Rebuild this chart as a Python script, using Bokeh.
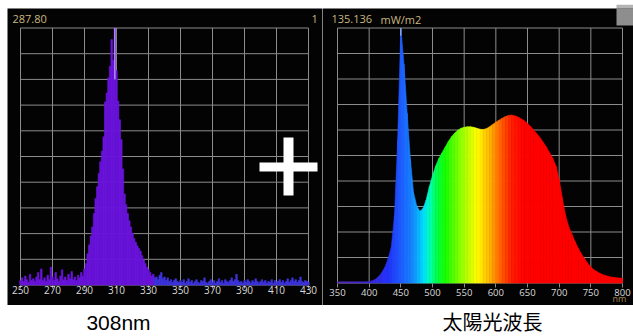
import numpy as np
from bokeh.plotting import figure
from bokeh.models import Range1d, FixedTicker, Label, BoxAnnotation, Spacer
from bokeh.layouts import column, row
from bokeh.embed import file_html
from bokeh.resources import INLINE

# ---------------- data ----------------
# Left panel: narrow-band UV lamp spectrum (peak near 308 nm)
uv_wavelength = list(range(250, 431))
uv_counts = [
    5, 8, 4, 10, 6, 3, 12, 5, 7, 4,
    9, 14, 6, 18, 5, 8, 4, 11, 6, 20,
    9, 5, 14, 7, 4, 10, 17, 6, 9, 5,
    12, 7, 15, 6, 9, 5, 11, 8, 14, 10,
    18, 24, 35, 45, 55, 65, 80, 97, 110, 125,
    138, 150, 166, 205, 215, 232, 245, 275, 252, 287.8,
    240, 206, 185, 163, 130, 102, 90, 80, 72, 65,
    58, 52, 48, 44, 41, 38, 33, 28, 24, 20,
    17, 14, 10, 12, 8, 9, 6, 11, 14, 7,
    9, 5, 8, 4, 6, 3, 5, 7, 4, 3,
    5, 3, 6, 2, 4, 7, 3, 5, 2, 4,
    6, 3, 2, 5, 4, 8, 3, 2, 4, 6,
    3, 5, 2, 4, 7, 3, 5, 2, 6, 4,
    3, 5, 8, 4, 6, 12, 5, 3, 4, 2,
    5, 3, 6, 4, 2, 5, 3, 7, 4, 2,
    4, 6, 3, 5, 2, 4, 3, 6, 2, 5,
    3, 4, 6, 3, 5, 2, 4, 7, 3, 5,
    8, 4, 6, 3, 5, 9, 4, 3, 5, 4,
    3,
]
uv_peak_text = "287.80"
uv_right_text = "1"
uv_ticks = list(range(250, 431, 20))

# Right panel: sunlight-like full spectrum (mW/m2)
sun_wavelength = list(range(350, 801, 5))
sun_irradiance = [
    0.6, 0.6, 0.6, 0.6, 0.6, 0.6, 0.6, 0.6, 0.6, 0.6,      # 350-395
    0.8, 1.2, 2.0, 3.5, 5.5, 8.5, 13, 19, 36, 76,           # 400-445
    135.136, 116, 90, 66, 48, 41, 38, 39.5, 44, 51,         # 450-495
    57, 62, 66, 69, 72, 75, 77.5, 79.5, 81, 82,             # 500-545
    82.5, 82.8, 82.8, 82.5, 82, 81.5, 81.3, 81.8, 82.8, 84, # 550-595
    85.2, 86.3, 87.3, 88.2, 88.8, 89, 88.6, 88, 87, 86,     # 600-645
    84.5, 83, 81, 79, 77, 74.5, 72, 69, 66, 62,             # 650-695
    55, 45, 36, 30, 26, 22, 18.5, 15.5, 13, 10.5,           # 700-745
    8.5, 7, 6, 5, 4.3, 3.8, 3.3, 3.0, 2.8, 2.6, 2.6,        # 750-800
]
sun_peak_text = "135.136"
sun_unit_text = "mW/m2"
sun_ticks = list(range(350, 801, 50))
sun_axis_unit = "nm"

caption_left = "308nm"
caption_right = "太陽光波長"

# ---------------- styles ----------------
BG = "#030303"
GRID = "#8c8c8c"
HEAD = "#c9b680"
TICK_TXT = "#dadada"
PANEL_H = 297


def spectrum_color(wl):
    stops = [(350, (90, 40, 190)), (400, (60, 40, 215)), (430, (35, 50, 250)),
             (450, (30, 90, 255)), (470, (20, 140, 255)), (485, (0, 215, 255)),
             (495, (0, 255, 200)), (505, (0, 255, 90)), (520, (20, 255, 0)),
             (545, (140, 255, 0)), (570, (255, 255, 0)), (590, (255, 185, 0)),
             (605, (255, 110, 0)), (625, (255, 30, 0)), (645, (255, 0, 0)),
             (800, (255, 0, 0))]
    xs = [s[0] for s in stops]
    rgb = [int(round(np.interp(wl, xs, [s[1][k] for s in stops]))) for k in range(3)]
    return "#%02x%02x%02x" % tuple(rgb)


def panel(width, xticks, x_left_px, x_right_px, ymax, y_top_px, y_zero_px,
          tick_size, tick_out, standoff):
    """Whole figure is the frame; grid drawn only inside the plotting box."""
    ppx = (x_right_px - x_left_px) / (xticks[-1] - xticks[0])
    x0 = xticks[0] - x_left_px / ppx
    k = ymax / (y_zero_px - y_top_px)
    p = figure(width=width, height=PANEL_H,
               x_range=Range1d(x0, x0 + width / ppx),
               y_range=Range1d(-(PANEL_H - y_zero_px) * k, ymax + y_top_px * k),
               output_backend="svg", toolbar_location=None, min_border=0)
    p.background_fill_color = BG
    p.border_fill_color = BG
    p.outline_line_color = None
    p.yaxis.visible = False
    p.grid.visible = False
    p.xaxis.fixed_location = 0
    p.xaxis.ticker = FixedTicker(ticks=xticks)
    p.xaxis.axis_line_color = None
    p.xaxis.major_tick_line_color = GRID
    p.xaxis.major_tick_in = 0
    p.xaxis.major_tick_out = tick_out
    p.xaxis.minor_tick_line_color = None
    p.xaxis.major_label_text_color = TICK_TXT
    p.xaxis.major_label_text_font = "Open Sans"
    p.xaxis.major_label_text_font_size = tick_size
    p.xaxis.major_label_standoff = standoff
    levels = list(np.linspace(0, ymax, 11))
    p.segment(x0=[xticks[0]] * len(levels), y0=levels, x1=[xticks[-1]] * len(levels), y1=levels,
              line_color=GRID, line_width=1)
    p.segment(x0=xticks, y0=[0] * len(xticks), x1=xticks, y1=[ymax] * len(xticks),
              line_color=GRID, line_width=1)
    return p


def canvas_label(text, x, y, color=HEAD, size="11px", align="left", font="Open Sans"):
    return Label(x=x, y=y, x_units="canvas", y_units="canvas", text=text,
                 text_color=color, text_font=font, text_font_size=size,
                 text_baseline="middle", text_align=align)


def canvas_box(l, r, t, b, color):
    return BoxAnnotation(left=l, right=r, top=t, bottom=b,
                         left_units="canvas", right_units="canvas",
                         top_units="canvas", bottom_units="canvas",
                         fill_color=color, fill_alpha=1, line_color=None)


# ---------------- top strip (edge of the photo) ----------------
top = figure(width=633, height=8, x_range=Range1d(0, 1), y_range=Range1d(0, 1),
             output_backend="svg", toolbar_location=None, min_border=0)
top.axis.visible = False
top.grid.visible = False
top.outline_line_color = None
top.background_fill_color = "white"
top.border_fill_color = "white"
top.add_layout(canvas_box(616, 633, 0, 8, "#b4b4b4"))

# ---------------- left panel ----------------
uv_max = max(uv_counts)
left = panel(315, uv_ticks, 13, 301, uv_max, 19.5, 276.5, "10px", 3, -2)
uv_colors = ["#6a14dc" if w < 334 else "#3d33de" for w in uv_wavelength]
left.vbar(x=uv_wavelength, top=uv_counts, width=1.0, fill_color=uv_colors,
          line_color=uv_colors, line_width=0.6)
pk = uv_wavelength[int(np.argmax(uv_counts))]
left.segment(x0=[pk], y0=[uv_max * 0.8], x1=[pk], y1=[uv_max], line_color="#d9c9ff", line_width=1)
left.add_layout(canvas_label(uv_peak_text, 5, 10.5))
left.add_layout(canvas_label(uv_right_text, 304, 10.5))

# plus sign between the two screens
left.add_layout(canvas_box(252, 310, 154, 163, "white"))
left.add_layout(canvas_box(276, 286, 129, 187, "white"))

# ---------------- right panel ----------------
sun_max = max(sun_irradiance)
right = panel(311, sun_ticks, 15, 300, sun_max, 19.5, 274.5, "9.5px", 4, 2)
xs, ys, cols = [], [], []
for i in range(len(sun_wavelength) - 1):
    w0, w1 = sun_wavelength[i], sun_wavelength[i + 1]
    v0, v1 = sun_irradiance[i], sun_irradiance[i + 1]
    xs.append([w0, w1, w1, w0])
    ys.append([0, 0, v1, v0])
    cols.append(spectrum_color((w0 + w1) / 2))
right.patches(xs=xs, ys=ys, fill_color=cols, line_color=cols, line_width=0.6)
spk = sun_wavelength[int(np.argmax(sun_irradiance))]
right.segment(x0=[spk], y0=[sun_max * 0.97], x1=[spk], y1=[sun_max], line_color="#b8c0d0", line_width=1)
right.add_layout(canvas_label(sun_peak_text, 9, 10.5))
right.add_layout(canvas_label(sun_unit_text, 58, 10.5))
right.add_layout(canvas_label(sun_axis_unit, 297, 289.5, color="#a88650", size="9px", align="center"))
right.add_layout(canvas_box(294, 311, 0, 17, "#8e8e8e"))

# ---------------- captions ----------------
cap = figure(width=633, height=31, x_range=Range1d(0, 1), y_range=Range1d(0, 1),
             output_backend="svg", toolbar_location=None, min_border=0)
cap.axis.visible = False
cap.grid.visible = False
cap.outline_line_color = None
cap.background_fill_color = "white"
cap.border_fill_color = "white"
cap.add_layout(canvas_label(caption_left, 118, 17, color="black", size="21px",
                            align="center", font="Liberation Sans"))
cap.add_layout(canvas_label(caption_right, 492, 16, color="black", size="20px",
                            align="center", font="Noto Sans CJK JP"))

layout = column(
    top,
    row(Spacer(width=7, height=PANEL_H), left, right),
    cap,
)
open("out.html", "w").write(file_html(layout, INLINE))
